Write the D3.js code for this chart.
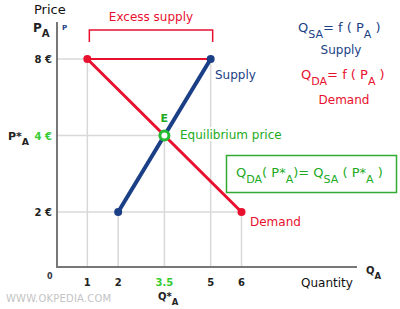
<!DOCTYPE html>
<html>
<head>
<meta charset="utf-8">
<script src="https://cdn.jsdelivr.net/npm/d3@7"></script>
<style>
    body { margin: 0; background: #fff; }
    svg { display: block; font-family: "DejaVu Sans", Verdana, sans-serif; }
</style>
</head>
<body>
<div id="chart"></div>
<script>
// data
const supplyPts = [[2, 2], [5, 8]];
const demandPts = [[1, 8], [6, 2]];
const equilibrium = [3.5, 5];
const xTicks = [1, 2, 3.5, 5, 6];
const xTickLabels = ['1', '2', '3.5', '5', '6'];
const yTicks = [8, 5, 2];
const yTickLabels = ['8 €', '4 €', '2 €'];

const W = 400;
const H = 309;
const BLUE = '#1b3f86';
const RED = '#e8102e';
const GREEN = '#22aa22';
const GRID = '#d8d8d8';
const AXIS = '#777';

const svg = d3.select('#chart')
    .append('svg')
    .attr('width', W)
    .attr('height', H);

const x = d3.scaleLinear().domain([0, 6]).range([56.5, 241.5]);
const y = d3.scaleLinear().domain([2, 8]).range([212, 59]);
const axisY = 267;

// grid segments from each mark down to the axes
const gridG = svg.append('g')
    .attr('stroke', GRID)
    .attr('stroke-width', 1.5);

const vGrid = [
    [1, 8], [2, 2], [3.5, 5], [5, 8], [6, 2],
];
vGrid.forEach(([q, p]) => {
    gridG.append('line')
        .attr('x1', x(q)).attr('x2', x(q))
        .attr('y1', y(p)).attr('y2', axisY);
});
const hGrid = [[8, 1], [5, 3.5], [2, 6]];
hGrid.forEach(([p, q]) => {
    gridG.append('line')
        .attr('x1', x(0)).attr('x2', x(q))
        .attr('y1', y(p)).attr('y2', y(p));
});

// axes
svg.append('line')
    .attr('x1', 57).attr('x2', 57)
    .attr('y1', 22).attr('y2', axisY)
    .attr('stroke', AXIS).attr('stroke-width', 2);
svg.append('line')
    .attr('x1', 56).attr('x2', 357)
    .attr('y1', axisY).attr('y2', axisY)
    .attr('stroke', AXIS).attr('stroke-width', 2);

// x ticks
svg.append('g')
    .selectAll('text')
    .data(xTicks)
    .enter()
    .append('text')
    .attr('x', d => x(d))
    .attr('y', 286)
    .attr('text-anchor', 'middle')
    .attr('font-size', 10)
    .attr('font-weight', 'bold')
    .attr('fill', d => (d === equilibrium[0] ? '#33cc33' : '#222'))
    .text((d, i) => xTickLabels[i]);

// y ticks
svg.append('g')
    .selectAll('text')
    .data(yTicks)
    .enter()
    .append('text')
    .attr('x', 52)
    .attr('y', d => y(d) + 4)
    .attr('text-anchor', 'end')
    .attr('font-size', 10)
    .attr('font-weight', 'bold')
    .attr('fill', d => (d === equilibrium[1] ? '#33cc33' : '#222'))
    .text((d, i) => yTickLabels[i]);

svg.append('text')
    .attr('x', 47).attr('y', 279)
    .attr('font-size', 8).attr('font-weight', 'bold')
    .attr('fill', '#334')
    .text('0');

// excess supply bracket
svg.append('path')
    .attr('d', `M${x(1) + 2},42 V30 H${x(5) + 2} V42`)
    .attr('fill', 'none')
    .attr('stroke', RED)
    .attr('stroke-width', 1.5);
svg.append('text')
    .attr('x', 151).attr('y', 21)
    .attr('text-anchor', 'middle')
    .attr('font-size', 12)
    .attr('fill', RED)
    .text('Excess supply');

svg.append('line')
    .attr('x1', x(1)).attr('x2', x(5))
    .attr('y1', y(8)).attr('y2', y(8))
    .attr('stroke', RED)
    .attr('stroke-width', 2);

// curves
const line = d3.line()
    .x(d => x(d[0]))
    .y(d => y(d[1]));

svg.append('path')
    .attr('d', line(demandPts))
    .attr('stroke', RED)
    .attr('stroke-width', 3)
    .attr('fill', 'none');
svg.append('path')
    .attr('d', line(supplyPts))
    .attr('stroke', BLUE)
    .attr('stroke-width', 4)
    .attr('fill', 'none');

svg.selectAll('circle.dem')
    .data(demandPts)
    .enter()
    .append('circle')
    .attr('class', 'dem')
    .attr('cx', d => x(d[0]))
    .attr('cy', d => y(d[1]))
    .attr('r', 4)
    .attr('fill', RED);
svg.selectAll('circle.sup')
    .data(supplyPts)
    .enter()
    .append('circle')
    .attr('class', 'sup')
    .attr('cx', d => x(d[0]))
    .attr('cy', d => y(d[1]))
    .attr('r', 4)
    .attr('fill', BLUE);

// equilibrium point
svg.append('circle')
    .attr('cx', x(equilibrium[0]))
    .attr('cy', y(equilibrium[1]))
    .attr('r', 4.5)
    .attr('fill', '#fff')
    .attr('stroke', '#22bb33')
    .attr('stroke-width', 3);

svg.append('text')
    .attr('x', x(equilibrium[0]) - 4).attr('y', y(equilibrium[1]) - 14)
    .attr('font-size', 11).attr('font-weight', 'bold')
    .attr('fill', GREEN)
    .text('E');
svg.append('text')
    .attr('x', 180).attr('y', y(equilibrium[1]) + 3)
    .attr('font-size', 12)
    .attr('fill', GREEN)
    .attr('stroke', '#fff').attr('stroke-width', 4)
    .attr('paint-order', 'stroke')
    .text('Equilibrium price');

// curve labels
svg.append('text')
    .attr('x', 215).attr('y', 79)
    .attr('font-size', 12)
    .attr('fill', BLUE)
    .text('Supply');
svg.append('text')
    .attr('x', 250).attr('y', 226)
    .attr('font-size', 12)
    .attr('fill', RED)
    .text('Demand');

// helper for text with subscripts
function subText(parent, xPos, yPos, parts, opts) {
    const t = parent.append('text')
        .attr('x', xPos).attr('y', yPos)
        .attr('font-size', opts.size)
        .attr('fill', opts.color)
        .attr('font-weight', opts.weight || 'normal')
        .attr('text-anchor', opts.anchor || 'start');
    parts.forEach(([s, kind]) => {
        const ts = t.append('tspan').text(s);
        if (kind === 'sub') {
            ts.attr('dy', opts.size * 0.45).attr('font-size', opts.size * 0.85);
        } else if (kind === 'back') {
            ts.attr('dy', -opts.size * 0.45);
        }
    });
    return t;
}

// axis titles
svg.append('text')
    .attr('x', 34).attr('y', 14)
    .attr('font-size', 13)
    .attr('fill', '#111')
    .text('Price');
subText(svg, 33, 32, [['P'], ['A', 'sub']], { size: 12, color: '#222', weight: 'bold' });
svg.append('text')
    .attr('x', 62).attr('y', 30)
    .attr('font-size', 7).attr('font-weight', 'bold')
    .attr('fill', BLUE)
    .text('P');
subText(svg, 8, 140, [['P*'], ['A', 'sub']], { size: 11, color: '#222', weight: 'bold' });
subText(svg, 158, 300, [['Q*'], ['A', 'sub']], { size: 10, color: '#222', weight: 'bold' });
subText(svg, 366, 274, [['Q'], ['A', 'sub']], { size: 10, color: '#222', weight: 'bold' });
svg.append('text')
    .attr('x', 301).attr('y', 287)
    .attr('font-size', 12)
    .attr('fill', '#111')
    .text('Quantity');

// legend
subText(svg, 298, 32, [['Q'], ['SA', 'sub'], ['= f ( P', 'back'], ['A', 'sub'], [' )', 'back']],
    { size: 13, color: BLUE });
svg.append('text')
    .attr('x', 341).attr('y', 54)
    .attr('text-anchor', 'middle')
    .attr('font-size', 12)
    .attr('fill', BLUE)
    .text('Supply');
subText(svg, 301, 79, [['Q'], ['DA', 'sub'], ['= f ( P', 'back'], ['A', 'sub'], [' )', 'back']],
    { size: 13, color: RED });
svg.append('text')
    .attr('x', 344).attr('y', 104)
    .attr('text-anchor', 'middle')
    .attr('font-size', 12)
    .attr('fill', RED)
    .text('Demand');

// equilibrium condition box
svg.append('rect')
    .attr('x', 226.5).attr('y', 155.5)
    .attr('width', 170).attr('height', 37)
    .attr('fill', '#fff')
    .attr('stroke', '#33aa33')
    .attr('stroke-width', 1.5);
subText(svg, 236, 177, [
    ['Q'], ['DA', 'sub'], ['( P*', 'back'], ['A', 'sub'], [')= Q', 'back'],
    ['SA', 'sub'], [' ( P*', 'back'], ['A', 'sub'], [' )', 'back'],
], { size: 13, color: GREEN });

// watermark
svg.append('text')
    .attr('x', 6).attr('y', 302)
    .attr('font-size', 10)
    .attr('letter-spacing', 0.2)
    .attr('fill', '#c4c4c4')
    .text('WWW.OKPEDIA.COM');
</script>
</body>
</html>
